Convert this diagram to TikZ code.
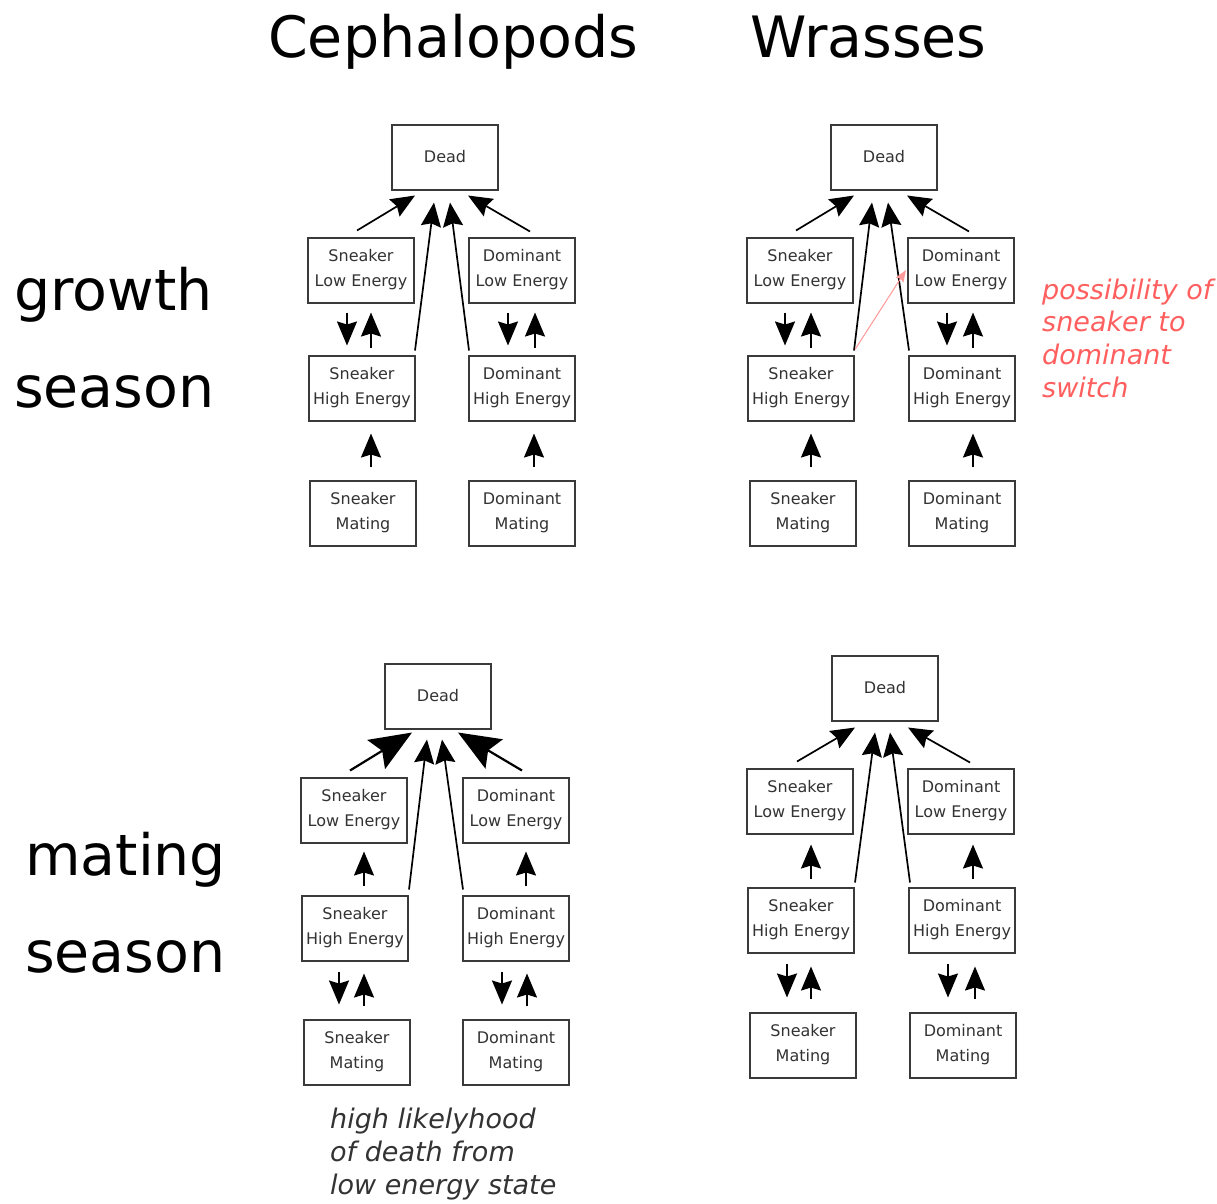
\documentclass[tikz,border=0pt]{standalone}
\usepackage{fontspec}
\setmainfont{DejaVu Sans}
\usetikzlibrary{arrows.meta,calc}
\definecolor{boxtext}{HTML}{333333}
\definecolor{boxline}{HTML}{3A3A3A}
\definecolor{notered}{HTML}{FF5F5F}
\definecolor{notearrow}{HTML}{FF9A9A}
\tikzset{
  box/.style={draw=boxline, line width=2pt, minimum width=106pt, minimum height=65pt,
    inner sep=0pt, align=center, text=boxtext, font=\fontsize{16}{25}\selectfont},
  arr/.style={-{Stealth[length=24pt,width=20pt,inset=3pt]}, line width=1.7pt},
  bigarr/.style={-{Stealth[length=42pt,width=34pt,inset=7pt]}, line width=2.2pt},
  redarr/.style={-{Stealth[length=12pt,width=9pt,inset=2pt]}, line width=1pt, draw=notearrow, fill=notearrow},
  title/.style={anchor=base west, inner sep=0pt, font=\fontsize{57}{60}\selectfont},
  note/.style={anchor=base west, inner sep=0pt, font=\fontsize{27}{33}\selectfont\itshape},
}
\begin{document}
\begin{tikzpicture}[x=1pt,y=-1pt]
\fill[white] (0,0) rectangle (1217,1203);
\useasboundingbox (0,0) rectangle (1217,1203);

% titles
\node[title] (tc) at (268,57) {Cephalopods};
\node[title] (tw) at (750,57) {Wrasses};
\node[title] (g1) at (14,310) {growth};
\node[title] (g2) at (14,407) {season};
\node[title] (m1) at (25,875) {mating};
\node[title] (m2) at (25,972) {season};

% ---------- top left: cephalopods, growth ----------
\node[box] (a-dead) at (445,157) {Dead};
\node[box] (a-sle) at (361,270) {Sneaker\\Low Energy};
\node[box] (a-dle) at (522,270) {Dominant\\Low Energy};
\node[box] (a-she) at (362,388) {Sneaker\\High Energy};
\node[box] (a-dhe) at (522,388) {Dominant\\High Energy};
\node[box] (a-sm) at (363,513) {Sneaker\\Mating};
\node[box] (a-dm) at (522,513) {Dominant\\Mating};
\draw[arr] ($(a-sle.north)+(-4,-6)$) -- ($(a-dead.south)+(-30,5)$);
\draw[arr] ($(a-dle.north)+(8,-5)$) -- ($(a-dead.south)+(23,5)$);
\draw[arr] ($(a-she.north east)+(-1,-4)$) -- ($(a-dead.south)+(-11,12)$);
\draw[arr] ($(a-dhe.north west)+(1,-4)$) -- ($(a-dead.south)+(5,12)$);
\draw[arr] ($(a-sle.south)+(-14,9)$) -- ($(a-she.north)+(-15,-9)$);
\draw[arr] ($(a-she.north)+(9,-7)$) -- ($(a-sle.south)+(10,9)$);
\draw[arr] ($(a-dle.south)+(-14,9)$) -- ($(a-dhe.north)+(-14,-9)$);
\draw[arr] ($(a-dhe.north)+(13,-7)$) -- ($(a-dle.south)+(13,9)$);
\draw[arr] ($(a-sm.north)+(8,-13)$) -- ($(a-she.south)+(9,12)$);
\draw[arr] ($(a-dm.north)+(12,-13)$) -- ($(a-dhe.south)+(12,12)$);

% ---------- top right: wrasses, growth ----------
\node[box] (b-dead) at (884,157) {Dead};
\node[box] (b-sle) at (800,270) {Sneaker\\Low Energy};
\node[box] (b-dle) at (961,270) {Dominant\\Low Energy};
\node[box] (b-she) at (801,388) {Sneaker\\High Energy};
\node[box] (b-dhe) at (962,388) {Dominant\\High Energy};
\node[box] (b-sm) at (803,513) {Sneaker\\Mating};
\node[box] (b-dm) at (962,513) {Dominant\\Mating};
\draw[arr] ($(b-sle.north)+(-4,-6)$) -- ($(b-dead.south)+(-30,5)$);
\draw[arr] ($(b-dle.north)+(8,-5)$) -- ($(b-dead.south)+(23,5)$);
\draw[arr] ($(b-she.north east)+(-1,-4)$) -- ($(b-dead.south)+(-12,12)$);
\draw[arr] ($(b-dhe.north west)+(1,-4)$) -- ($(b-dead.south)+(4,12)$);
\draw[arr] ($(b-sle.south)+(-15,9)$) -- ($(b-she.north)+(-16,-9)$);
\draw[arr] ($(b-she.north)+(10,-7)$) -- ($(b-sle.south)+(11,9)$);
\draw[arr] ($(b-dle.south)+(-14,9)$) -- ($(b-dhe.north)+(-15,-9)$);
\draw[arr] ($(b-dhe.north)+(11,-7)$) -- ($(b-dle.south)+(12,9)$);
\draw[arr] ($(b-sm.north)+(8,-13)$) -- ($(b-she.south)+(10,12)$);
\draw[arr] ($(b-dm.north)+(11,-13)$) -- ($(b-dhe.south)+(11,12)$);
\draw[redarr] ($(b-she.north east)+(0,-5)$) -- ($(b-dle.west)+(-1,0)$);
\node[note, text=notered] (r1) at (1042,299) {possibility of};
\node[note, text=notered] (r2) at (1042,331) {sneaker to};
\node[note, text=notered] (r3) at (1042,364) {dominant};
\node[note, text=notered] (r4) at (1042,397) {switch};

% ---------- bottom left: cephalopods, mating ----------
\node[box] (c-dead) at (438,696) {Dead};
\node[box] (c-sle) at (354,810) {Sneaker\\Low Energy};
\node[box] (c-dle) at (516,810) {Dominant\\Low Energy};
\node[box] (c-she) at (355,928) {Sneaker\\High Energy};
\node[box] (c-dhe) at (516,928) {Dominant\\High Energy};
\node[box] (c-sm) at (357,1052) {Sneaker\\Mating};
\node[box] (c-dm) at (516,1052) {Dominant\\Mating};
\draw[bigarr] ($(c-sle.north)+(-4,-6)$) -- ($(c-dead.south)+(-26,3)$);
\draw[bigarr] ($(c-dle.north)+(6,-6)$) -- ($(c-dead.south)+(20,3)$);
\draw[arr] ($(c-she.north east)+(0,-5)$) -- ($(c-dead.south)+(-11,10)$);
\draw[arr] ($(c-dhe.north west)+(1,-5)$) -- ($(c-dead.south)+(4,10)$);
\draw[arr] ($(c-she.north)+(9,-9)$) -- ($(c-sle.south)+(10,8)$);
\draw[arr] ($(c-dhe.north)+(10,-9)$) -- ($(c-dle.south)+(10,8)$);
\draw[arr] ($(c-she.south)+(-16,10)$) -- ($(c-sm.north)+(-18,-14)$);
\draw[arr] ($(c-sm.north)+(7,-13)$) -- ($(c-she.south)+(9,12)$);
\draw[arr] ($(c-dhe.south)+(-14,10)$) -- ($(c-dm.north)+(-14,-14)$);
\draw[arr] ($(c-dm.north)+(11,-13)$) -- ($(c-dhe.south)+(11,12)$);
\node[note, text=boxtext] (t1) at (330,1128) {high likelyhood};
\node[note, text=boxtext] (t2) at (330,1161) {of death from};
\node[note, text=boxtext] (t3) at (330,1194) {low energy state};

% ---------- bottom right: wrasses, mating ----------
\node[box] (d-dead) at (885,688) {Dead};
\node[box] (d-sle) at (800,801) {Sneaker\\Low Energy};
\node[box] (d-dle) at (961,801) {Dominant\\Low Energy};
\node[box] (d-she) at (801,920) {Sneaker\\High Energy};
\node[box] (d-dhe) at (962,920) {Dominant\\High Energy};
\node[box] (d-sm) at (803,1045) {Sneaker\\Mating};
\node[box] (d-dm) at (963,1045) {Dominant\\Mating};
\draw[arr] ($(d-sle.north)+(-3,-6)$) -- ($(d-dead.south)+(-30,6)$);
\draw[arr] ($(d-dle.north)+(9,-5)$) -- ($(d-dead.south)+(23,6)$);
\draw[arr] ($(d-she.north east)+(0,-4)$) -- ($(d-dead.south)+(-10,11)$);
\draw[arr] ($(d-dhe.north west)+(2,-4)$) -- ($(d-dead.south)+(5,11)$);
\draw[arr] ($(d-she.north)+(10,-8)$) -- ($(d-sle.south)+(11,10)$);
\draw[arr] ($(d-dhe.north)+(11,-8)$) -- ($(d-dle.south)+(12,10)$);
\draw[arr] ($(d-she.south)+(-14,10)$) -- ($(d-sm.north)+(-16,-14)$);
\draw[arr] ($(d-sm.north)+(8,-13)$) -- ($(d-she.south)+(10,13)$);
\draw[arr] ($(d-dhe.south)+(-14,10)$) -- ($(d-dm.north)+(-15,-14)$);
\draw[arr] ($(d-dm.north)+(12,-13)$) -- ($(d-dhe.south)+(13,13)$);
\end{tikzpicture}
\end{document}
